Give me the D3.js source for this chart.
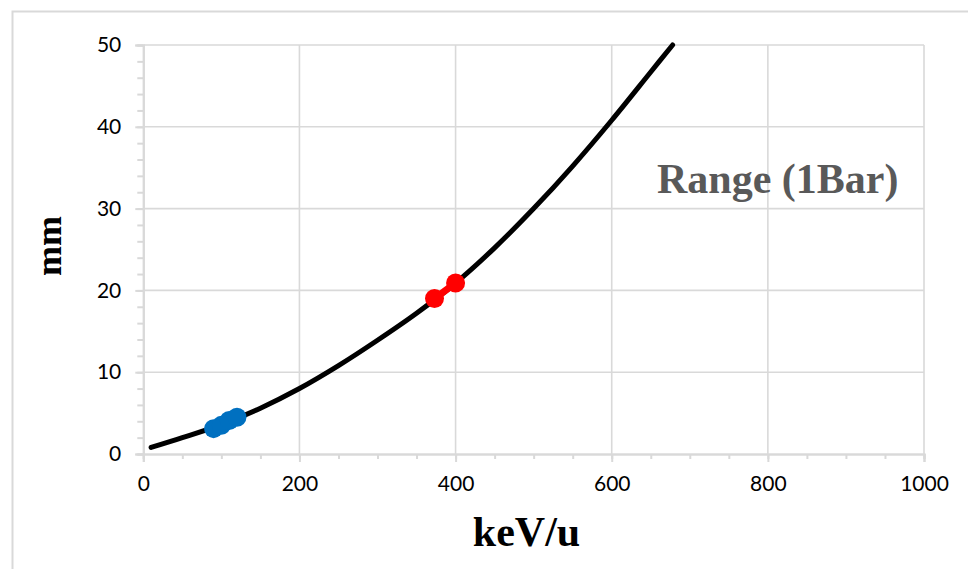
<!DOCTYPE html>
<html>
<head>
<meta charset="utf-8">
<script src="https://cdn.jsdelivr.net/npm/d3@7"></script>
<style>
  html, body { margin: 0; padding: 0; background: #fff; }
  svg { display: block; }
</style>
</head>
<body>
<svg id="chart" width="968" height="569"></svg>
<script>
// Range curve (1 bar) — energy in keV/u, range in mm
const energy = [10, 50, 100, 150, 200, 250, 300, 350, 400, 450, 500, 550, 600, 650, 678];
const rangeMm = [0.8, 2.0, 3.6, 5.6, 8.0, 10.8, 13.9, 17.2, 20.9, 25.2, 30.0, 35.2, 40.8, 46.7, 50];

// measured points, blue group
const blueEnergy = [90, 100, 110, 120];
const blueRange = [3.1, 3.5, 4.1, 4.5];

// measured points, red group
const redEnergy = [373, 400];
const redRange = [19.0, 20.9];

const xTicks = [0, 200, 400, 600, 800, 1000];
const yTicks = [0, 10, 20, 30, 40, 50];

const svg = d3.select("#chart");
const W = 968, H = 569;
const plot = { left: 143.3, right: 924, top: 45, bottom: 454 };

const x = d3.scaleLinear().domain([0, 1000]).range([plot.left, plot.right]);
const y = d3.scaleLinear().domain([0, 50]).range([plot.bottom, plot.top]);

const grid = "#d9d9d9";

// outer frame
svg.append("rect")
  .attr("x", 12.5).attr("y", 11.5)
  .attr("width", W).attr("height", H)
  .attr("fill", "none").attr("stroke", grid).attr("stroke-width", 2);

// gridlines
const g = svg.append("g");
g.selectAll("line.h").data(yTicks.filter(d => d > 0)).join("line")
  .attr("x1", plot.left).attr("x2", plot.right)
  .attr("y1", d => y(d)).attr("y2", d => y(d))
  .attr("stroke", grid).attr("stroke-width", 1.6);
g.selectAll("line.v").data(xTicks.filter(d => d > 0)).join("line")
  .attr("y1", plot.top).attr("y2", plot.bottom)
  .attr("x1", d => x(d)).attr("x2", d => x(d))
  .attr("stroke", grid).attr("stroke-width", 1.6);

// axes
const xMinor = d3.range(0, 1001, 50);
const yMinor = d3.range(0, 51, 2);

const xAxis = d3.axisBottom(x).tickValues(xTicks).tickSize(8).tickPadding(14).tickFormat(d3.format("d"));
const xAxisMinor = d3.axisBottom(x).tickValues(xMinor).tickSize(5).tickFormat("");
const yAxis = d3.axisLeft(y).tickValues(yTicks).tickSize(8).tickPadding(14).tickFormat(d3.format("d"));
const yAxisMinor = d3.axisLeft(y).tickValues(yMinor).tickSize(6).tickFormat("");

function styleAxis(sel) {
  sel.select(".domain").attr("stroke", grid).attr("stroke-width", 2);
  sel.selectAll(".tick line").attr("stroke", grid).attr("stroke-width", 2);
  sel.selectAll(".tick text")
    .attr("font-family", "Lato, 'Open Sans', sans-serif")
    .attr("font-size", 21).attr("fill", "#000");
}

svg.append("g").attr("transform", `translate(0,${plot.bottom})`).call(xAxisMinor).call(styleAxis);
svg.append("g").attr("transform", `translate(0,${plot.bottom})`).call(xAxis).call(styleAxis);
svg.append("g").attr("transform", `translate(${plot.left},0)`).call(yAxisMinor).call(styleAxis);
svg.append("g").attr("transform", `translate(${plot.left},0)`).call(yAxis).call(styleAxis);

// range curve
const curve = energy.map((e, i) => [e, rangeMm[i]]);
const line = d3.line().x(d => x(d[0])).y(d => y(d[1])).curve(d3.curveCatmullRom.alpha(0.5));
svg.append("path").datum(curve)
  .attr("d", line)
  .attr("fill", "none").attr("stroke", "#000").attr("stroke-width", 5)
  .attr("stroke-linecap", "round");

// measured series
function series(es, rs, color) {
  const pts = es.map((e, i) => [e, rs[i]]);
  const lin = d3.line().x(d => x(d[0])).y(d => y(d[1]));
  svg.append("path").datum(pts).attr("d", lin)
    .attr("fill", "none").attr("stroke", color).attr("stroke-width", 7);
  svg.append("g").selectAll("circle").data(pts).join("circle")
    .attr("cx", d => x(d[0])).attr("cy", d => y(d[1])).attr("r", 9.5)
    .attr("fill", color);
}
series(blueEnergy, blueRange, "#0070C0");
series(redEnergy, redRange, "#FF0000");

// titles
const serif = "'Liberation Serif', 'Times New Roman', serif";
svg.append("text")
  .attr("x", 526.5).attr("y", 546)
  .attr("text-anchor", "middle")
  .attr("font-family", serif).attr("font-weight", "bold").attr("font-size", 42)
  .attr("fill", "#000").text("keV/u");

svg.append("text")
  .attr("transform", "translate(61,246) rotate(-90)")
  .attr("text-anchor", "middle")
  .attr("font-family", serif).attr("font-weight", "bold").attr("font-size", 36)
  .attr("fill", "#000").text("mm");

svg.append("text")
  .attr("x", 657).attr("y", 193)
  .attr("font-family", serif).attr("font-weight", "bold").attr("font-size", 42)
  .attr("fill", "#595959").text("Range (1Bar)");
</script>
</body>
</html>
